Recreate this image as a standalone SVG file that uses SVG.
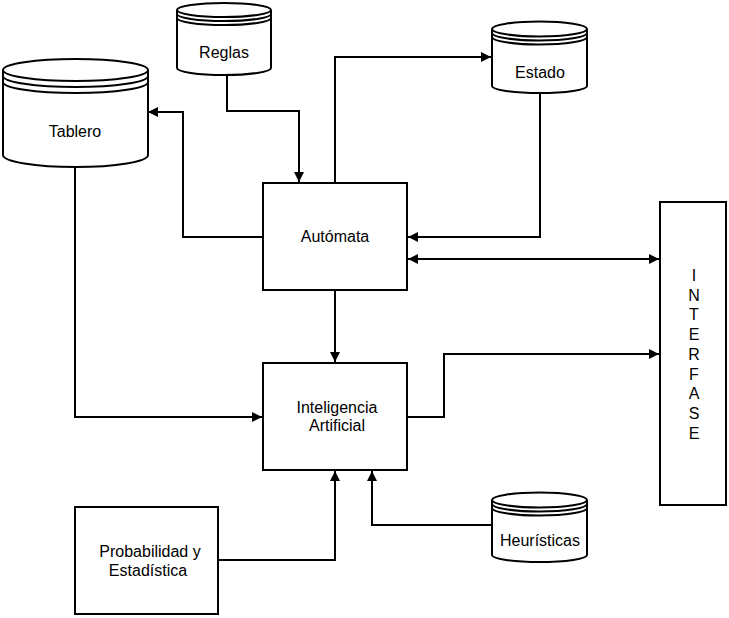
<svg xmlns="http://www.w3.org/2000/svg" width="729" height="618" viewBox="0 0 729 618">
<style>
.shape{fill:#fff;stroke:#000;stroke-width:2}
.cyl{fill:none;stroke:#000;stroke-width:2}
.lbl{font-family:"Liberation Sans",Arial,sans-serif;font-size:16px;fill:#000;text-anchor:middle}
.conn{fill:none;stroke:#000;stroke-width:2}
</style>
<defs>
<marker id="arr" markerUnits="userSpaceOnUse" markerWidth="11" markerHeight="10" refX="10" refY="5" orient="auto-start-reverse">
<path d="M0,0 L10,5 L0,10 z" fill="#000"/>
</marker>
</defs>
<rect width="729" height="618" fill="#fff"/>
<g id="connectors">
<path class="conn" d="M227,70 V111 H299 V182" marker-end="url(#arr)"/>
<path class="conn" d="M335,183 V57 H491" marker-end="url(#arr)"/>
<path class="conn" d="M540,92 V237 H408" marker-end="url(#arr)"/>
<path class="conn" d="M263,237 H183 V112 H148" marker-end="url(#arr)"/>
<path class="conn" d="M408,259 H659" marker-start="url(#arr)" marker-end="url(#arr)"/>
<path class="conn" d="M335,290 V362" marker-end="url(#arr)"/>
<path class="conn" d="M75,163 V417 H262" marker-end="url(#arr)"/>
<path class="conn" d="M407,417 H444 V354 H659" marker-end="url(#arr)"/>
<path class="conn" d="M218,560 H335 V471" marker-end="url(#arr)"/>
<path class="conn" d="M492,525 H372 V471" marker-end="url(#arr)"/>
</g>
<g id="tablero">
<path class="shape" d="M3,70 A72.5,11 0 0 1 148,70 V155 A72.5,12 0 0 1 3,155 Z"/>
<path class="cyl" d="M3,70 A72.5,11 0 0 0 148,70 M3,76 A72.5,11 0 0 0 148,76 M3,82 A72.5,11 0 0 0 148,82"/>
<text class="lbl" x="75" y="137">Tablero</text>
</g>
<g id="reglas">
<path class="shape" d="M177,10 A47,7 0 0 1 271,10 V68 A47,7 0 0 1 177,68 Z"/>
<path class="cyl" d="M177,10 A47,7 0 0 0 271,10 M177,14 A47,7 0 0 0 271,14 M177,18 A47,7 0 0 0 271,18"/>
<text class="lbl" x="224" y="58">Reglas</text>
</g>
<g id="estado">
<path class="shape" d="M492,29 A47.5,7.5 0 0 1 587,29 V86 A47.5,7 0 0 1 492,86 Z"/>
<path class="cyl" d="M492,29 A47.5,7.5 0 0 0 587,29 M492,33 A47.5,7.5 0 0 0 587,33 M492,37 A47.5,7.5 0 0 0 587,37"/>
<text class="lbl" x="540" y="78">Estado</text>
</g>
<g id="heuristicas">
<path class="shape" d="M492,500 A47.5,7.5 0 0 1 587,500 V555 A47.5,7 0 0 1 492,555 Z"/>
<path class="cyl" d="M492,500 A47.5,7.5 0 0 0 587,500 M492,504 A47.5,7.5 0 0 0 587,504 M492,508 A47.5,7.5 0 0 0 587,508"/>
<text class="lbl" x="540" y="546">Heurísticas</text>
</g>
<g id="automata">
<rect class="shape" x="263" y="183" width="144" height="107"/>
<text class="lbl" x="335" y="242">Autómata</text>
</g>
<g id="ia">
<rect class="shape" x="263" y="363" width="144" height="107"/>
<text class="lbl" x="337" y="413">Inteligencia</text>
<text class="lbl" x="337" y="431">Artificial</text>
</g>
<g id="probabilidad">
<rect class="shape" x="75" y="507" width="143" height="107"/>
<text class="lbl" x="150" y="557">Probabilidad y</text>
<text class="lbl" x="148" y="576">Estadística</text>
</g>
<g id="interfase">
<rect class="shape" x="660" y="202" width="66" height="303"/>
<text class="lbl" x="694" y="281">I</text>
<text class="lbl" x="694" y="300.7">N</text>
<text class="lbl" x="694" y="320.4">T</text>
<text class="lbl" x="694" y="340.1">E</text>
<text class="lbl" x="694" y="359.8">R</text>
<text class="lbl" x="694" y="379.5">F</text>
<text class="lbl" x="694" y="399.2">A</text>
<text class="lbl" x="694" y="418.9">S</text>
<text class="lbl" x="694" y="438.6">E</text>
</g>
</svg>
